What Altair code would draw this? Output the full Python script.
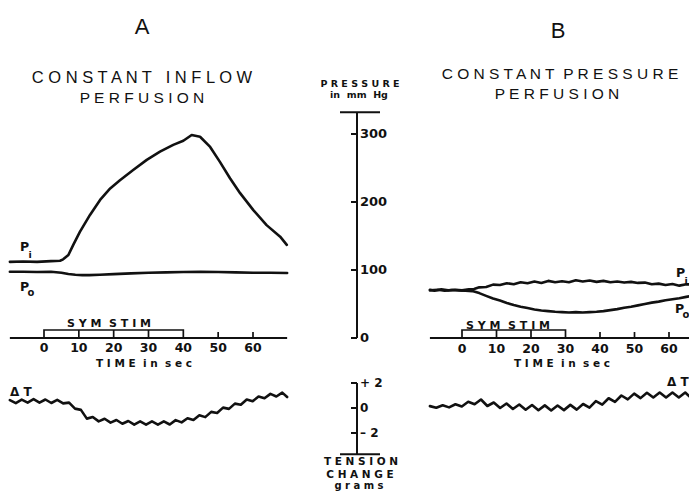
import altair as alt
import pandas as pd

# ---------------- Panel A : constant inflow perfusion ----------------
a_pi_t = [-9.8, -6, -2, 2, 4.6, 5.5, 7.0, 8.4, 10.3, 13.2, 16.1, 19.0, 21.8, 25.6, 29.5, 33.3,
          37.1, 40.0, 42.4, 44.8, 47.7, 50.5, 53.4, 56.3, 60.1, 63.9, 67.8, 69.7]
a_pi_p = [112, 112.5, 112, 113, 113.7, 115.7, 122, 137, 156, 181, 203, 220, 232, 247, 262, 274,
          284, 290, 298.5, 296, 281, 259, 235, 213, 188, 166, 149, 137]
a_po_t = [-9.8, -6, -2, 2, 5, 7, 9, 11, 13, 16, 20, 25, 30, 35, 40, 45, 50, 55, 60, 65, 69.8]
a_po_p = [97.5, 97.5, 97, 97.5, 96, 94, 93, 92.5, 92.5, 93, 94, 95, 96, 96.5, 97, 97.5, 97, 96.5, 96, 96, 95.5]
a_dt_t = [-9.8, -8.1, -6.4, -4.7, -3.0, -1.3, 0.4, 2.1, 3.8, 5.5, 7.2, 8.9, 10.6, 12.3, 14.0, 15.7,
          17.4, 19.1, 20.8, 22.5, 24.2, 25.9, 27.6, 29.3, 31.0, 32.7, 34.4, 36.1, 37.8, 39.5, 41.2,
          42.9, 44.6, 46.3, 48.0, 49.7, 51.4, 53.1, 54.8, 56.5, 58.2, 59.9, 61.6, 63.3, 65.0, 66.7,
          68.4, 69.8]
a_dt_g = [0.63, 0.39, 0.67, 0.43, 0.71, 0.43, 0.68, 0.40, 0.65, 0.37, 0.43, -0.05, -0.15, -0.85,
          -0.72, -1.07, -0.86, -1.17, -0.96, -1.26, -1.04, -1.33, -1.07, -1.33, -1.07, -1.33, -1.07,
          -1.32, -0.97, -1.15, -0.82, -0.96, -0.58, -0.73, -0.31, -0.40, 0.03, -0.07, 0.35, 0.26,
          0.68, 0.54, 0.92, 0.78, 1.13, 0.92, 1.23, 0.88]
a_axis_span = [-9.8, 69.8]
a_stim = [0, 40]
a_stim_marks = [10, 20, 30]
a_ticks = [50, 60]

# ---------------- Panel B : constant pressure perfusion ----------------
b_pi_t = [-9.3, -8, -6, -4, -2, 0, 2, 3.5, 5, 7, 9, 11, 13, 15, 17, 19, 21, 23, 25, 27, 29, 31,
          33, 35, 37, 39, 41, 43, 45, 47, 49, 51, 53, 55, 57, 59, 61, 63, 65, 67, 68.5]
b_pi_p = [71, 69.5, 71.5, 70, 71, 70, 71.5, 72, 74.5, 75, 78.5, 78, 80.5, 79, 82, 80.5, 83, 81,
          84, 82, 83.5, 82, 85, 83, 84.5, 82.5, 84, 82, 83, 81.5, 82.5, 81, 81.5, 79, 80, 78,
          79.5, 77, 79, 78.5, 81]
b_po_t = [-9.3, -7, -5, -3, -1, 1, 3, 5, 7, 9, 11, 13, 15, 17, 19, 21, 23, 25, 27, 29, 31, 33,
          35, 37, 39, 41, 43, 45, 47, 49, 51, 53, 55, 57, 59, 61, 63, 65, 67, 68.5]
b_po_p = [70, 71, 69.5, 70.5, 70, 69.5, 69, 66, 62, 58, 55, 51.5, 48.5, 46, 44, 42, 40.5, 39.5,
          38.5, 38, 37.5, 38, 37.5, 38, 38.5, 39.5, 41, 42.5, 44.5, 46, 48, 50, 52, 53.5, 55.5,
          57, 58.5, 60.5, 62.5, 64]
b_dt_t = [-9.3, -7.45, -5.6, -3.75, -1.9, -0.05, 1.8, 3.65, 5.5, 7.35, 9.2, 11.05, 12.9, 14.75,
          16.6, 18.45, 20.3, 22.15, 24.0, 25.85, 27.7, 29.55, 31.4, 33.25, 35.1, 36.95, 38.8,
          40.65, 42.5, 44.35, 46.2, 48.05, 49.9, 51.75, 53.6, 55.45, 57.3, 59.15, 61.0, 62.85,
          64.7, 66.55, 68.4]
b_dt_g = [0.15, 0.02, 0.22, 0.05, 0.30, 0.12, 0.50, 0.30, 0.68, 0.16, 0.44, 0.0, 0.36, -0.08,
          0.28, -0.14, 0.24, -0.18, 0.21, -0.2, 0.2, -0.17, 0.25, -0.13, 0.32, 0.03, 0.55, 0.27,
          0.78, 0.49, 1.0, 0.69, 1.15, 0.79, 1.22, 0.84, 1.24, 0.84, 1.24, 0.84, 1.24, 0.76, 1.08]
b_axis_span = [-9.3, 80]
b_stim = [0, 30]
b_stim_marks = [10, 20]
b_ticks = [40, 50, 60, 70]

time_labels = [0, 10, 20, 30, 40, 50, 60]

# ---------------- central calibration axes ----------------
p_ticks = [0, 100, 200, 300]
p_axis_top = 332
g_ticks = [2, 0, -2]
g_tick_labels = ["+ 2", "0", "\u2013 2"]
g_axis_bottom = -3.7

# ---------------- layout helpers (page pixels -> plot pixels) ----------------
OX, OY = 8, 8
def X(px):
    return px - OX
def Y(py):
    return py - OY

NB = "\u00a0"

def spaced(word):
    return " ".join(word)

P_SC = alt.Scale(domain=[0, 300], range=[Y(338), Y(134)], zero=False, nice=False)
G_SC = alt.Scale(domain=[-2, 2], range=[Y(433), Y(383)], zero=False, nice=False)
TA_SC = alt.Scale(domain=[0, 60], range=[X(44), X(253)], zero=False, nice=False)
TB_SC = alt.Scale(domain=[0, 60], range=[X(462), X(669)], zero=False, nice=False)

BOLD = "DejaVu Sans"
REG = "Liberation Sans"
INK = "#111111"


def trace(ts, vs, xs, ys, sw=2.6):
    df = pd.DataFrame({"t": ts, "v": vs})
    return alt.Chart(df).mark_line(color=INK, strokeWidth=sw, strokeJoin="round",
                                   strokeCap="round").encode(
        x=alt.X("t:Q", scale=xs, axis=None),
        y=alt.Y("v:Q", scale=ys, axis=None),
    )


def label(text, x, y, size, font=REG, weight="normal", align="center", baseline="middle"):
    return alt.Chart(alt.Data(values=[{}])).mark_text(
        text=text, font=font, fontSize=size, fontWeight=weight, color=INK,
        align=align, baseline=baseline,
    ).encode(x=alt.value(X(x)), y=alt.value(Y(y)))


def time_axis(span, xs, stim, marks, ticks, label_y):
    line = alt.Chart(pd.DataFrame({"a": [span[0]], "b": [span[1]]})).mark_rule(
        color=INK, strokeWidth=2.2).encode(
        x=alt.X("a:Q", scale=xs, axis=None), x2="b:Q", y=alt.value(Y(338)))
    box = alt.Chart(pd.DataFrame({"s": [stim[0]], "e": [stim[1]]})).mark_rect(
        fillOpacity=0, stroke=INK, strokeWidth=1.7).encode(
        x=alt.X("s:Q", scale=xs, axis=None), x2="e:Q",
        y=alt.value(Y(330)), y2=alt.value(Y(338)))
    divs = alt.Chart(pd.DataFrame({"t": marks})).mark_rule(color=INK, strokeWidth=1.7).encode(
        x=alt.X("t:Q", scale=xs, axis=None), y=alt.value(Y(330)), y2=alt.value(Y(338)))
    tks = alt.Chart(pd.DataFrame({"t": ticks})).mark_rule(color=INK, strokeWidth=1.7).encode(
        x=alt.X("t:Q", scale=xs, axis=None), y=alt.value(Y(332)), y2=alt.value(Y(338)))
    labs = alt.Chart(pd.DataFrame({"t": time_labels})).mark_text(
        font=BOLD, fontSize=12.5, fontWeight="bold", color=INK, baseline="middle").encode(
        x=alt.X("t:Q", scale=xs, axis=None), y=alt.value(Y(label_y)), text="t:Q")
    return [line, box, divs, tks, labs]


SYM = spaced("SYM") + NB + NB + spaced("STIM")
TIME = spaced("TIME") + NB + " " + spaced("in") + NB + " " + spaced("sec")

layers = []

# ----- Panel A -----
layers += [
    label("A", 142, 27, 22),
    label(spaced("CONSTANT") + NB + NB + " " + spaced("INFLOW"), 142, 78, 16.5),
    label(spaced("PERFUSION"), 142, 98, 15.5),
    trace(a_pi_t, a_pi_p, TA_SC, P_SC),
    trace(a_po_t, a_po_p, TA_SC, P_SC),
    trace(a_dt_t, a_dt_g, TA_SC, G_SC),
    label("P", 20, 247, 12.5, BOLD, "bold", "left"),
    label("i", 28.5, 255, 9.5, BOLD, "bold", "left"),
    label("P", 20, 287, 12.5, BOLD, "bold", "left"),
    label("o", 27.5, 293, 10, BOLD, "bold", "left"),
    label("\u0394" + NB + "T", 10, 392, 12, BOLD, "bold", "left"),
    label(SYM, 109, 324, 11, BOLD, "bold"),
    label(TIME, 144, 364, 10.5, BOLD, "bold"),
]
layers += time_axis(a_axis_span, TA_SC, a_stim, a_stim_marks, a_ticks, 348)

# ----- Panel B -----
layers += [
    label("B", 558, 31, 22),
    label(spaced("CONSTANT") + NB + NB + spaced("PRESSURE"), 560, 74, 15.5),
    label(spaced("PERFUSION"), 557, 94, 15.5),
    trace(b_pi_t, b_pi_p, TB_SC, P_SC),
    trace(b_po_t, b_po_p, TB_SC, P_SC),
    trace(b_dt_t, b_dt_g, TB_SC, G_SC),
    label("P", 676, 273, 12.5, BOLD, "bold", "left"),
    label("i", 684.5, 281, 9.5, BOLD, "bold", "left"),
    label("P", 675, 309, 12.5, BOLD, "bold", "left"),
    label("o", 682.5, 315, 10, BOLD, "bold", "left"),
    label("\u0394" + NB + "T", 667, 382, 12, BOLD, "bold", "left"),
    label(SYM, 508, 326, 11, BOLD, "bold"),
    label(TIME, 562, 364, 10.5, BOLD, "bold"),
]
layers += time_axis(b_axis_span, TB_SC, b_stim, b_stim_marks, b_ticks, 349)

# ----- central calibration axes -----
p_line = alt.Chart(pd.DataFrame({"a": [0], "b": [p_axis_top]})).mark_rule(
    color=INK, strokeWidth=2).encode(
    y=alt.Y("a:Q", scale=P_SC, axis=None), y2="b:Q", x=alt.value(X(357)))
p_top = alt.Chart(pd.DataFrame({"a": [p_axis_top]})).mark_rule(color=INK, strokeWidth=2).encode(
    y=alt.Y("a:Q", scale=P_SC, axis=None), x=alt.value(X(340)), x2=alt.value(X(380)))
p_tk = alt.Chart(pd.DataFrame({"v": p_ticks})).mark_rule(color=INK, strokeWidth=2).encode(
    y=alt.Y("v:Q", scale=P_SC, axis=None), x=alt.value(X(351)), x2=alt.value(X(357)))
p_lab = alt.Chart(pd.DataFrame({"v": p_ticks})).mark_text(
    font=BOLD, fontSize=13, fontWeight="bold", color=INK, align="left", baseline="middle").encode(
    y=alt.Y("v:Q", scale=P_SC, axis=None), x=alt.value(X(360)), text="v:Q")

g_line = alt.Chart(pd.DataFrame({"a": [g_ticks[0]], "b": [g_axis_bottom]})).mark_rule(
    color=INK, strokeWidth=2).encode(
    y=alt.Y("a:Q", scale=G_SC, axis=None), y2="b:Q", x=alt.value(X(357)))
g_bot = alt.Chart(pd.DataFrame({"a": [g_axis_bottom]})).mark_rule(color=INK, strokeWidth=2).encode(
    y=alt.Y("a:Q", scale=G_SC, axis=None), x=alt.value(X(340)), x2=alt.value(X(380)))
g_tk = alt.Chart(pd.DataFrame({"v": g_ticks})).mark_rule(color=INK, strokeWidth=2).encode(
    y=alt.Y("v:Q", scale=G_SC, axis=None), x=alt.value(X(351)), x2=alt.value(X(357)))
g_lab = alt.Chart(pd.DataFrame({"v": g_ticks, "s": g_tick_labels})).mark_text(
    font=BOLD, fontSize=12, fontWeight="bold", color=INK, align="left", baseline="middle").encode(
    y=alt.Y("v:Q", scale=G_SC, axis=None), x=alt.value(X(360)), text="s:N")

layers += [
    p_line, p_top, p_tk, p_lab, g_line, g_bot, g_tk, g_lab,
    label(spaced("PRESSURE"), 360, 84, 9.5, BOLD, "bold"),
    label("in" + NB + " mm" + NB + " Hg", 359, 95, 9.5, BOLD, "bold"),
    label(spaced("TENSION"), 361, 462, 10.5, BOLD, "bold"),
    label(spaced("CHANGE"), 360, 475, 10.5, BOLD, "bold"),
    label(spaced("grams"), 359, 486, 10, BOLD, "bold"),
]

chart = alt.layer(*layers).resolve_scale(x="independent", y="independent").properties(
    width=681, height=483,
    autosize=alt.AutoSizeParams(type="none"),
    padding=0,
    background="white",
).configure_view(stroke=None)

chart.save("out.html", embed_options={"renderer": "svg", "actions": False})
